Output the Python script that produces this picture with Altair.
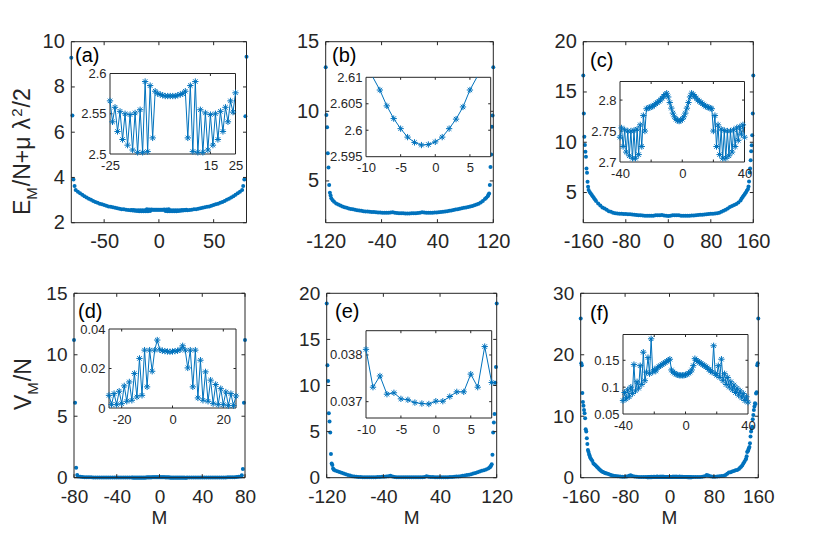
import altair as alt
import pandas as pd

# ---------------- data ----------------
# (a) E_M/N + mu lambda^2/2, small system: inset (every M) + outer parts of the main curve
a_in_M = list(range(-25, 26))
a_in_v = [2.566, 2.540, 2.558, 2.528, 2.553, 2.518, 2.550, 2.511, 2.549, 2.505,
          2.551, 2.502, 2.555, 2.502, 2.590, 2.503, 2.585, 2.520, 2.578, 2.575,
          2.574, 2.573, 2.572, 2.572, 2.572, 2.572, 2.572, 2.573, 2.574, 2.575,
          2.578, 2.520, 2.585, 2.503, 2.590, 2.502, 2.555, 2.502, 2.551, 2.505,
          2.549, 2.511, 2.550, 2.518, 2.553, 2.528, 2.558, 2.540, 2.566, 2.552, 2.576]
a_left_M = [-80, -79, -78, -77] + list(range(-76, -25, 2))
a_left_v = [9.29, 6.74, 3.91, 3.62, 3.44, 3.37, 3.30, 3.24, 3.17, 3.11, 3.06, 3.01, 2.96,
            2.92, 2.88, 2.84, 2.81, 2.78, 2.75, 2.72, 2.70, 2.68, 2.66, 2.64, 2.62,
            2.60, 2.59, 2.57, 2.56, 2.55]
a_right_M = list(range(26, 77, 2)) + [77, 78, 79, 80]
a_right_v = [2.55, 2.56, 2.57, 2.59, 2.60, 2.62, 2.64, 2.66, 2.68, 2.70, 2.72, 2.75,
             2.78, 2.81, 2.84, 2.88, 2.92, 2.96, 3.01, 3.06, 3.11, 3.17, 3.24, 3.30,
             3.37, 3.44, 3.62, 3.91, 6.70, 9.33]

# (b)
b_in_M = list(range(-9, 7))
b_in_v = [2.6115, 2.6076, 2.6046, 2.6022, 2.6003, 2.5987, 2.5977, 2.5972, 2.5973,
          2.5978, 2.5987, 2.6003, 2.6021, 2.6044, 2.6076, 2.6115]
b_M = ([-120, -119, -118, -117, -116, -115, -114, -113, -112, -110, -108]
       + list(range(-105, 106, 3))
       + [108, 110, 112, 113, 114, 115, 116, 117, 118, 119, 120])
b_v = [13.16, 9.73, 8.85, 6.98, 5.97, 4.70, 4.15, 3.95, 3.75, 3.62, 3.50,
       3.38, 3.30, 3.24, 3.17, 3.11, 3.07, 3.02, 2.99, 2.96, 2.93, 2.90, 2.87,
       2.85, 2.83, 2.81, 2.80, 2.79, 2.77, 2.76, 2.75, 2.74, 2.73, 2.72, 2.72,
       2.71, 2.72, 2.74, 2.75, 2.71, 2.69, 2.68, 2.67, 2.67, 2.66, 2.66,
       2.66,
       2.67, 2.67, 2.68, 2.69, 2.71, 2.75, 2.74, 2.72, 2.71,
       2.72, 2.72, 2.73, 2.74, 2.75, 2.77, 2.78, 2.80, 2.82, 2.85, 2.88, 2.91, 2.94,
       2.97, 3.00, 3.04, 3.07, 3.10, 3.13, 3.16, 3.20, 3.25, 3.30, 3.37, 3.45, 3.55,
       3.70, 3.80, 3.90, 4.00, 4.10, 4.70, 6.00, 6.90, 8.90, 9.70, 13.16]

# (c)
c_in_M = list(range(-40, 41))
c_in_v = [2.740, 2.755, 2.725, 2.752, 2.716, 2.750, 2.710, 2.750, 2.706, 2.751,
          2.706, 2.753, 2.712, 2.760, 2.725, 2.775, 2.750,
          2.786, 2.787, 2.788, 2.789, 2.790, 2.792, 2.794, 2.796, 2.798, 2.800,
          2.803, 2.806, 2.809, 2.811,
          2.805, 2.796, 2.787, 2.779, 2.773, 2.769, 2.767, 2.766, 2.767,
          2.769,
          2.773, 2.779, 2.787, 2.796, 2.805,
          2.811, 2.809, 2.806, 2.803, 2.800, 2.798, 2.796, 2.794, 2.792, 2.790,
          2.789, 2.788, 2.787, 2.786,
          2.750, 2.775, 2.725, 2.760, 2.712, 2.753, 2.706, 2.751, 2.706, 2.750,
          2.710, 2.750, 2.716, 2.752, 2.725, 2.755, 2.735, 2.757, 2.745, 2.760, 2.740]
c_M = ([-160, -159, -158, -157, -156, -155, -154, -153, -152, -151, -150,
        -148, -146, -144, -142, -140, -138]
       + list(range(-136, 137, 4))
       + [138, 140, 142, 144, 146, 148, 150, 151, 152, 153, 154, 155, 156, 157, 158, 159, 160])
c_v = [16.65, 12.87, 10.55, 9.73, 9.06, 8.56, 7.40, 6.97, 6.08, 5.58, 5.25,
       5.05, 4.90, 4.75, 4.60, 4.45, 4.30,
       4.15, 3.90, 3.72, 3.52, 3.40, 3.30, 3.15, 3.08, 3.00, 2.95, 2.92, 2.90,
       2.88, 2.87, 2.86, 2.85, 2.83, 2.81, 2.79, 2.77, 2.75, 2.73, 2.71, 2.70,
       2.69, 2.68, 2.68, 2.70, 2.73, 2.74, 2.75, 2.76, 2.72, 2.68,
       2.66,
       2.70, 2.74, 2.75, 2.74, 2.73, 2.70, 2.68, 2.68, 2.69, 2.70, 2.71, 2.72,
       2.74, 2.76, 2.78, 2.80, 2.82, 2.84, 2.86, 2.88, 2.90, 2.92, 2.95, 2.98,
       3.10, 3.20, 3.30, 3.42, 3.55, 3.65, 3.75, 3.85, 4.00, 4.20,
       4.40, 4.55, 4.70, 4.85, 5.00, 5.20, 5.35, 5.60, 6.10, 7.00, 7.40, 8.20,
       9.10, 9.70, 10.70, 12.87, 16.65]

# (d) V_M/N
d_in_M = list(range(-25, 26))
d_in_v = [0.0064, 0.0017, 0.0073, 0.0017, 0.0085, 0.0022, 0.0112, 0.0034, 0.0132, 0.0039,
          0.0175, 0.0056, 0.0251, 0.0064, 0.0293, 0.0107, 0.0293, 0.0186, 0.0293, 0.0344,
          0.0295, 0.0290, 0.0288, 0.0286, 0.0285, 0.0286, 0.0288, 0.0290, 0.0295, 0.0315,
          0.0293, 0.0203, 0.0293, 0.0107, 0.0293, 0.0051, 0.0242, 0.0039, 0.0183, 0.0034,
          0.0141, 0.0022, 0.0119, 0.0017, 0.0098, 0.0017, 0.0081, 0.0012, 0.0073, 0.0012, 0.0061]
d_left_M = [-80, -79, -78, -77] + list(range(-76, -25, 2))
d_left_v = [11.2, 6.1, 0.80, 0.22, 0.10, 0.07, 0.05, 0.04, 0.035, 0.03, 0.028, 0.026,
            0.024, 0.022, 0.02, 0.019, 0.018, 0.017, 0.016, 0.015, 0.014, 0.013, 0.012,
            0.011, 0.010, 0.009, 0.008, 0.008, 0.007, 0.007]
d_right_M = list(range(26, 77, 2)) + [77, 78, 79, 80]
d_right_v = [0.007, 0.007, 0.008, 0.008, 0.009, 0.010, 0.011, 0.012, 0.013, 0.014, 0.015,
             0.016, 0.017, 0.018, 0.019, 0.02, 0.022, 0.024, 0.026, 0.028, 0.03, 0.035,
             0.04, 0.05, 0.07, 0.10, 0.20, 0.70, 6.1, 11.2]

# (e)
e_in_M = list(range(-10, 9))
e_in_v = [0.03812, 0.03731, 0.03755, 0.03716, 0.03719, 0.03706, 0.03704, 0.03698, 0.03696,
          0.03695, 0.03701, 0.03701, 0.03711, 0.03721, 0.03721, 0.03759, 0.03731, 0.03818, 0.03741]
e_M = ([-120, -119, -118, -117, -116, -115, -114, -113, -112, -111, -110]
       + list(range(-108, 109, 3))
       + [110, 111, 112, 113, 114, 115, 116, 117, 118, 119, 120])
e_v = [18.9, 12.2, 10.5, 7.0, 6.1, 4.9, 2.57, 1.55, 1.37, 1.0, 0.85,
       0.78, 0.70, 0.62, 0.55, 0.46, 0.38, 0.30, 0.23, 0.17, 0.13, 0.10, 0.08,
       0.07, 0.06, 0.06, 0.05, 0.05, 0.05, 0.06, 0.06, 0.07, 0.08, 0.09, 0.10,
       0.12, 0.15, 0.20, 0.12, 0.08, 0.06, 0.05, 0.04, 0.04, 0.04, 0.04, 0.04,
       0.04,
       0.04, 0.04, 0.04, 0.05, 0.06, 0.08, 0.15, 0.10, 0.08, 0.07, 0.06, 0.05,
       0.05, 0.05, 0.05, 0.06, 0.06, 0.07, 0.08, 0.10, 0.12, 0.14, 0.17, 0.20,
       0.24, 0.28, 0.33, 0.38, 0.45, 0.52, 0.60, 0.68, 0.75, 0.82, 0.90, 1.00,
       1.10, 1.20, 1.30, 1.45, 2.50, 4.90, 6.00, 6.90, 10.3, 12.0, 18.9]

# (f)
f_in_M = list(range(-40, 41))
f_in_v = [0.075, 0.090, 0.078, 0.095, 0.082, 0.100, 0.088, 0.142, 0.093, 0.110,
          0.098, 0.140, 0.105, 0.165, 0.112, 0.128, 0.155, 0.125, 0.190, 0.128,
          0.133, 0.130, 0.136, 0.138, 0.140, 0.142, 0.144, 0.146, 0.148, 0.150, 0.152,
          0.132, 0.128, 0.126, 0.124, 0.123, 0.122, 0.122, 0.122, 0.122,
          0.123,
          0.124, 0.126, 0.128, 0.132, 0.140,
          0.153, 0.150, 0.148, 0.146, 0.144, 0.142, 0.140, 0.138, 0.136, 0.133, 0.130, 0.128,
          0.177, 0.125, 0.122, 0.140, 0.118, 0.152, 0.112, 0.125, 0.105, 0.118,
          0.100, 0.110, 0.095, 0.104, 0.090, 0.098, 0.085, 0.093, 0.080, 0.088,
          0.075, 0.082, 0.072]
f_left_M = [-160, -159, -158, -157, -156, -155, -154, -153, -152, -151, -150, -149, -148,
            -147, -146, -145, -144, -143, -141, -139, -137, -135, -133, -131, -129, -127,
            -125, -123, -121, -119, -117, -115, -113, -110, -107, -104, -101, -97, -93,
            -89, -85, -81, -77, -73, -70, -67, -63, -59, -55, -51, -47, -43]
f_left_v = [25.9, 18.6, 18.3, 13.8, 12.3, 11.7, 11.0, 10.5, 9.66, 7.87, 7.5, 6.4, 5.48,
            4.5, 4.23, 3.85, 3.6, 3.3, 3.0, 2.7, 2.33, 2.15, 1.98, 1.8, 1.6, 1.42,
            1.25, 1.1, 0.98, 0.88, 0.8, 0.74, 0.7, 0.6, 0.5, 0.4, 0.33, 0.27, 0.22,
            0.19, 0.17, 0.16, 0.2, 0.32, 0.38, 0.28, 0.2, 0.16, 0.13, 0.11, 0.1, 0.1]
f_right_M = [43, 47, 51, 55, 59, 63, 67, 70, 74, 78, 82, 86, 90, 94, 98, 101, 104, 107,
             110, 113, 116, 119, 122, 125, 127, 129, 131, 133, 135, 137, 138, 139, 140,
             141, 142, 143, 144, 145, 146, 147, 148, 149, 150, 151, 152, 153, 154, 155,
             156, 157, 158, 159, 160]
f_right_v = [0.1, 0.11, 0.12, 0.13, 0.15, 0.22, 0.43, 0.35, 0.22, 0.17, 0.17, 0.19, 0.22,
             0.27, 0.33, 0.45, 0.65, 0.85, 0.9, 1.0, 1.1, 1.2, 1.25, 1.4, 1.6, 1.8, 2.0,
             2.3, 2.6, 2.9, 3.1, 3.5, 4.2, 4.3, 4.5, 4.8, 5.0, 5.6, 6.7, 7.5, 8.0, 8.3,
             9.5, 10.2, 11.0, 11.6, 12.1, 12.0, 13.7, 13.9, 18.3, 18.6, 25.9]

# ---------------- style / layout ----------------
BLUE = "#0072BD"
AXC = "#262626"
FONT = "Liberation Sans"
STAR = "M-1,0L1,0M0,-1L0,1M-0.7,-0.7L0.7,0.7M-0.7,0.7L0.7,-0.7"
W, H = 814, 520
OX, OY = 8, 8

PANELS = [
    dict(M=a_left_M + a_in_M + a_right_M, v=a_left_v + a_in_v + a_right_v,
         iM=a_in_M, iv=a_in_v, fs=20,
         xr=(71.3, 246.5), yr=(41.7, 222.7), xdom=(-80, 80), ydom=(2, 10),
         xt=[-50, 0, 50], yt=[2, 4, 6, 8, 10], xpad=9,
         ixr=(110, 235.5), iyr=(73.5, 154), ixdom=(-25, 25), iydom=(2.5, 2.6),
         ixt=[15], ixl=[-25, 15, 25], iyt=[2.55], iyl=[2.5, 2.55, 2.6],
         lab="(a)", lx=75, ly=62),
    dict(M=b_M, v=b_v, iM=b_in_M, iv=b_in_v, star_rng=(-8, 5), fs=20,
         xr=(325.7, 493.3), yr=(41.7, 222.7), xdom=(-120, 120), ydom=(2, 15),
         xt=[-120, -40, 40, 120], yt=[5, 10, 15], xpad=9,
         ixr=(366, 490.7), iyr=(77.3, 156.7), ixdom=(-10, 8), iydom=(2.595, 2.61),
         ixt=[-5, 0, 5], ixl=[-10, -5, 0, 5], iyt=[2.6, 2.605],
         iyl=[2.595, 2.6, 2.605, 2.61],
         lab="(b)", lx=332, ly=62),
    dict(M=c_M, v=c_v, iM=c_in_M, iv=c_in_v, fs=20,
         xr=(583.3, 753.3), yr=(41.7, 222.7), xdom=(-160, 160), ydom=(2, 20),
         xt=[-160, -80, 0, 80, 160], yt=[5, 10, 15, 20], xpad=9,
         ixr=(620, 744.5), iyr=(81.5, 162), ixdom=(-40, 40), iydom=(2.7, 2.83),
         ixt=[-20, 0, 20], ixl=[-40, 0, 40], iyt=[2.75, 2.8], iyl=[2.7, 2.75, 2.8],
         lab="(c)", lx=590, ly=67),
    dict(M=d_left_M + d_in_M + d_right_M, v=d_left_v + d_in_v + d_right_v,
         iM=d_in_M, iv=d_in_v, fs=19,
         xr=(74, 245), yr=(293.3, 477.7), xdom=(-80, 80), ydom=(0, 15),
         xt=[-80, -40, 0, 40, 80], yt=[0, 5, 10, 15], xpad=10,
         ixr=(109, 236), iyr=(329, 408), ixdom=(-25, 25), iydom=(0, 0.04),
         ixt=[-20, 0, 20], ixl=[-20, 0, 20], iyt=[0.02], iyl=[0, 0.02, 0.04],
         lab="(d)", lx=78, ly=318),
    dict(M=e_M, v=e_v, iM=e_in_M, iv=e_in_v, fs=19,
         xr=(326.7, 496.7), yr=(293.3, 477.7), xdom=(-120, 120), ydom=(0, 20),
         xt=[-120, -40, 40, 120], yt=[0, 5, 10, 15, 20], xpad=10,
         ixr=(366, 491.7), iyr=(330.7, 418), ixdom=(-10, 8), iydom=(0.03665, 0.03852),
         ixt=[-5, 0, 5], ixl=[-10, -5, 0, 5], iyt=[0.037, 0.038], iyl=[0.037, 0.038],
         lab="(e)", lx=335, ly=318),
    dict(M=f_left_M + f_in_M + f_right_M, v=f_left_v + f_in_v + f_right_v,
         iM=f_in_M, iv=f_in_v, fs=19,
         xr=(580.7, 758.3), yr=(293.3, 477.7), xdom=(-160, 160), ydom=(0, 30),
         xt=[-160, -80, 0, 80, 160], yt=[0, 10, 20, 30], xpad=10,
         ixr=(623, 748), iyr=(334.5, 414), ixdom=(-40, 40), iydom=(0.05, 0.198),
         ixt=[-20, 0, 20], ixl=[-40, 0, 40], iyt=[0.1, 0.15], iyl=[0.05, 0.1, 0.15],
         lab="(f)", lx=590, ly=320),
]


def xscale(dom, rng, clamp=False):
    return alt.Scale(domain=list(dom), range=[rng[0] - OX, rng[1] - OX],
                     nice=False, zero=False, clamp=clamp)


def yscale(dom, rng, clamp=False):
    return alt.Scale(domain=list(dom), range=[rng[1] - OY, rng[0] - OY],
                     nice=False, zero=False, clamp=clamp)


def ax_x(values, bottom, fs, pad, z=0):
    return alt.Axis(orient="bottom", offset=-(H - (bottom - OY)), values=values,
                    domain=False, ticks=False, tickSize=0, grid=False,
                    labelFont=FONT, labelFontSize=fs, labelColor=AXC,
                    labelPadding=pad, labelFlush=False, labelOverlap=False,
                    labelExpr="'' + datum.value", title=None, zindex=z)


def ax_y(values, left, fs, pad, z=0):
    return alt.Axis(orient="left", offset=-(left - OX), values=values,
                    domain=False, ticks=False, tickSize=0, grid=False,
                    labelFont=FONT, labelFontSize=fs, labelColor=AXC,
                    labelPadding=pad, labelFlush=False, labelOverlap=False,
                    labelExpr="'' + datum.value", title=None, zindex=z)


def tick_df(xdom, ydom, xr, yr, xt, yt, L):
    lx = L * (xdom[1] - xdom[0]) / (xr[1] - xr[0])
    ly = L * (ydom[1] - ydom[0]) / (yr[1] - yr[0])
    rows = []
    for t in xt:
        rows.append(dict(x0=t, x1=t, y0=ydom[0], y1=ydom[0] + ly))
        rows.append(dict(x0=t, x1=t, y0=ydom[1], y1=ydom[1] - ly))
    for t in yt:
        rows.append(dict(x0=xdom[0], x1=xdom[0] + lx, y0=t, y1=t))
        rows.append(dict(x0=xdom[1], x1=xdom[1] - lx, y0=t, y1=t))
    return pd.DataFrame(rows)


def box_df(xdom, ydom):
    return pd.DataFrame([dict(x0=xdom[0], x1=xdom[1], y0=ydom[0], y1=ydom[1])])


def rect_layer(df, X, Y, **kw):
    return alt.Chart(df).mark_rect(**kw).encode(
        x=alt.X("x0:Q", scale=X, axis=None), x2="x1:Q",
        y=alt.Y("y0:Q", scale=Y, axis=None), y2="y1:Q")


def rule_layer(df, X, Y):
    return alt.Chart(df).mark_rule(color=AXC, strokeWidth=1).encode(
        x=alt.X("x0:Q", scale=X, axis=None), x2="x1:Q",
        y=alt.Y("y0:Q", scale=Y, axis=None), y2="y1:Q")


def panel(P):
    X = xscale(P["xdom"], P["xr"])
    Y = yscale(P["ydom"], P["yr"])
    IX = xscale(P["ixdom"], P["ixr"])
    IY = yscale(P["iydom"], P["iyr"], clamp=True)
    L = []
    main = pd.DataFrame({"M": P["M"], "v": P["v"]})
    L.append(alt.Chart(main).mark_circle(size=16, color=BLUE, opacity=1).encode(
        x=alt.X("M:Q", scale=X, axis=ax_x(P["xt"], P["yr"][1], P["fs"], P["xpad"])),
        y=alt.Y("v:Q", scale=Y, axis=ax_y(P["yt"], P["xr"][0], P["fs"], 7))))
    L.append(rule_layer(tick_df(P["xdom"], P["ydom"], P["xr"], P["yr"], P["xt"], P["yt"], 3.5), X, Y))
    L.append(rect_layer(box_df(P["xdom"], P["ydom"]), X, Y,
                        fillOpacity=0, stroke=AXC, strokeWidth=1))
    L.append(rect_layer(box_df(P["ixdom"], P["iydom"]), IX, IY,
                        fill="white", stroke=AXC, strokeWidth=1))
    L.append(rule_layer(tick_df(P["ixdom"], P["iydom"], P["ixr"], P["iyr"], P["ixt"], P["iyt"], 2.5), IX, IY))
    ins = pd.DataFrame({"M": P["iM"], "v": P["iv"]})
    L.append(alt.Chart(ins).mark_line(color=BLUE, strokeWidth=1).encode(
        x=alt.X("M:Q", scale=IX, axis=ax_x(P["ixl"], P["iyr"][1], 13, 5, 1)),
        y=alt.Y("v:Q", scale=IY, axis=ax_y(P["iyl"], P["ixr"][0], 13, 4, 1))))
    if "star_rng" in P:
        lo, hi = P["star_rng"]
        ins = ins[(ins["M"] >= lo) & (ins["M"] <= hi)]
    L.append(alt.Chart(ins).mark_point(shape=STAR, filled=False, color=BLUE,
                                        strokeWidth=1, size=40, opacity=1).encode(
        x=alt.X("M:Q", scale=IX, axis=None),
        y=alt.Y("v:Q", scale=IY, axis=None)))
    L.append(alt.Chart(pd.DataFrame({"t": [P["lab"]]})).mark_text(
        font=FONT, fontSize=20, color="black", align="left", baseline="alphabetic").encode(
        text="t:N", x=alt.value(P["lx"] - OX), y=alt.value(P["ly"] - OY)))
    return L


CW = {"E": 0.667, "M": 0.833, "/": 0.278, "N": 0.722, "+": 0.584, "μ": 0.576,
      "λ": 0.55, "2": 0.556, "V": 0.667}


def rot_title(segs, xb, y0):
    out = []
    y = y0
    for txt, fs, shift, gap in segs:
        y -= gap
        out.append(alt.Chart(pd.DataFrame({"t": [txt]})).mark_text(
            font=FONT, fontSize=fs, color=AXC, angle=270, align="left",
            baseline="alphabetic").encode(
            text="t:N", x=alt.value(xb + shift - OX), y=alt.value(y - OY)))
        y -= sum(CW.get(ch, 0.6) for ch in txt) * fs
    return out


layers = []
for P in PANELS:
    layers += panel(P)

layers += rot_title([("E", 23, 0, 0), ("M", 15, 7, 0), ("/N+", 23, 0, 1), ("μ", 23, 0, 0),
                     ("λ", 23, 0, 7), ("2", 15, -8, 0), ("/2", 23, 0, 1)], 30, 215)
layers += rot_title([("V", 23, 0, 0), ("M", 15, 7, 0), ("/N", 23, 0, 1)], 31, 410)

for P in PANELS[3:]:
    cx = (P["xr"][0] + P["xr"][1]) / 2
    layers.append(alt.Chart(pd.DataFrame({"t": ["M"]})).mark_text(
        font=FONT, fontSize=19, color=AXC, align="center", baseline="alphabetic").encode(
        text="t:N", x=alt.value(cx - OX), y=alt.value(524 - OY)))

chart = alt.layer(*layers).resolve_scale(x="independent", y="independent").properties(
    width=W, height=H, padding=0, autosize=alt.AutoSizeParams(type="none")
).configure(font=FONT).configure_view(stroke="transparent")

chart.save("out.html", embed_options={"renderer": "svg", "actions": False})
